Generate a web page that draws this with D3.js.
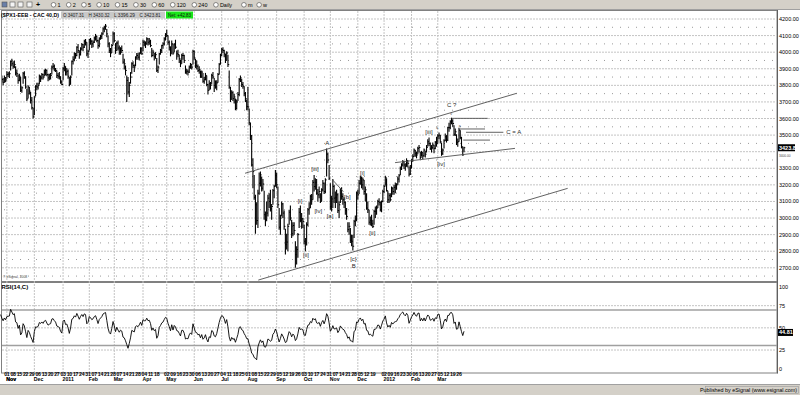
<!DOCTYPE html>
<html>
<head>
<meta charset="utf-8">
<script src="https://cdn.jsdelivr.net/npm/d3@7"></script>
<style>
  body { margin: 0; background: #fff; overflow: hidden; }
  svg text { font-family: "Liberation Sans", Arial, sans-serif; }
</style>
</head>
<body>
<svg id="chart" width="800" height="395"></svg>
<script>
// CAC 40 daily bars, Oct 25 2010 - Mar 30 2012. Each entry is [high, low, close].
const oct10 = [[3875,3845,3858],[3860,3815,3835],[3845,3800,3818],[3860,3815,3845],[3850,3818,3833]];
const nov10 = [[3885,3840,3866],[3880,3850,3868],[3885,3845,3870],[3950,3890,3945],[3960,3915,3930],
  [3945,3900,3915],[3950,3905,3925],[3915,3860,3875],[3895,3850,3870],[3865,3810,3830],
  [3870,3825,3855],[3850,3760,3770],[3795,3755,3785],[3880,3810,3870],[3885,3840,3850],
  [3855,3780,3790],[3780,3705,3718],[3800,3720,3790],[3790,3745,3765],[3760,3690,3710],
  [3730,3655,3665],[3665,3600,3610]];
const dec10 = [[3735,3620,3730],[3800,3735,3795],[3815,3770,3790],
  [3815,3775,3800],[3865,3805,3855],[3860,3820,3845],[3875,3835,3865],[3870,3835,3850],
  [3895,3855,3880],[3900,3860,3890],[3895,3855,3865],[3870,3825,3845],[3870,3830,3855],
  [3875,3835,3860],[3920,3865,3910],[3935,3895,3915],[3925,3885,3900],[3905,3880,3890],
  [3890,3845,3860],[3875,3840,3855],[3880,3835,3850],[3855,3810,3820],[3830,3800,3805]];
const jan11 = [[3910,3830,3900],[3935,3885,3915],[3915,3860,3880],[3905,3860,3885],[3895,3840,3855],
  [3850,3795,3805],[3860,3805,3850],[3950,3860,3945],[3975,3925,3955],[4000,3945,3990],
  [3995,3960,3980],[4035,3975,4030],[4050,3995,4010],[4010,3960,3985],[4030,3980,4020],
  [4055,4010,4045],[4050,4005,4030],[4075,4025,4065],[4080,4040,4060],[4060,3975,3990],
  [4015,3965,4005]];
const feb11 = [[4080,4010,4075],[4085,4045,4065],[4075,4025,4050],[4070,4030,4060],
  [4095,4055,4085],[4110,4070,4095],[4100,4060,4070],[4075,4020,4040],[4090,4030,4080],
  [4105,4075,4095],[4120,4080,4110],[4150,4105,4140],[4160,4120,4150],[4170,4135,4157],
  [4140,4090,4110],[4100,4030,4050],[4060,3995,4010],[4025,3970,3995],[4050,3995,4040],
  [4125,4045,4110]];
const mar11 = [[4120,4060,4070],[4055,3990,4010],[4065,4010,4055],[4070,4010,4025],
  [4040,3985,4000],[4030,3985,4020],[4040,3995,4010],[3990,3930,3940],[3960,3895,3930],
  [3920,3860,3890],[3860,3700,3830],[3850,3745,3760],[3820,3730,3800],[3880,3810,3850],
  [3940,3870,3930],[3945,3905,3920],[3925,3880,3910],[3975,3915,3970],[3995,3955,3980],
  [3995,3955,3970],[4000,3950,3990],[4030,3990,4020],[4030,3985,3990]];
const apr11 = [[4075,4005,4060],
  [4070,4035,4050],[4065,4025,4050],[4090,4045,4080],[4085,4040,4060],[4085,4045,4065],
  [4075,4030,4040],[4025,3970,3980],[4015,3975,4000],[3995,3950,3975],[4000,3960,3985],
  [3965,3880,3890],[3920,3875,3910],[3995,3925,3990],[4020,3985,4010],
  [4045,3995,4040],[4060,4020,4050],[4090,4040,4080],[4115,4070,4107]];
const may11 = [[4135,4090,4100],[4100,4045,4060],[4070,4010,4030],[4035,3975,3990],[4070,3990,4050],
  [4050,3985,3995],[4055,4000,4045],[4075,4020,4030],[4010,3955,3990],[4015,3970,3985],
  [3985,3935,3960],[3955,3910,3930],[3990,3930,3980],[3995,3955,3980],[3985,3935,3950],
  [3920,3870,3880],[3900,3865,3885],[3895,3860,3880],[3920,3875,3910],[3935,3900,3925],
  [3930,3895,3910],[4015,3925,4005]];
const jun11 = [[4010,3955,3965],[3960,3905,3920],[3950,3895,3915],
  [3925,3880,3890],[3915,3870,3895],[3890,3845,3855],[3890,3845,3880],[3875,3815,3825],
  [3850,3810,3835],[3875,3830,3860],[3860,3795,3805],[3810,3745,3770],[3830,3770,3810],
  [3820,3775,3800],[3870,3805,3860],[3880,3840,3850],[3845,3760,3800],[3830,3780,3790],
  [3830,3770,3815],[3875,3815,3865],[3935,3865,3925],[3990,3925,3980]];
const jul11 = [[4025,3975,4015],
  [4030,3995,4010],[4015,3970,3990],[3990,3935,3950],[4005,3950,3995],[3985,3910,3925],
  [3890,3780,3790],[3790,3700,3715],[3770,3715,3755],[3765,3705,3720],[3750,3690,3730],
  [3720,3650,3660],[3715,3655,3700],[3760,3705,3745],[3845,3735,3835],[3860,3820,3845],
  [3840,3790,3805],[3820,3780,3795],[3795,3735,3750],[3760,3700,3720],[3715,3650,3672]];
const aug11 = [[3790,3650,3670],[3660,3560,3575],[3575,3470,3495],[3500,3310,3320],[3360,3180,3280],
  [3260,3110,3125],[3140,2905,3080],[3095,2960,2985],[3170,2940,3150],[3275,3140,3210],
  [3280,3190,3260],[3250,3160,3180],[3235,3165,3205],[3165,2990,3020],[3040,2950,2990],
  [3100,2980,3030],[3140,3010,3120],[3150,3060,3100],[3170,3040,3055],[3085,2990,3070],
  [3175,3080,3165],[3200,3120,3190],[3290,3190,3256]];
const sep11 = [[3275,3180,3200],[3190,3060,3080],
  [3060,2930,2945],[3020,2900,3000],[3100,3010,3085],[3090,3000,3030],[3045,2930,2950],
  [2935,2780,2840],[2905,2810,2855],[2965,2800,2950],[3050,2960,3035],[3075,2985,3000],
  [2990,2880,2905],[2975,2890,2955],[2975,2900,2925],[2860,2700,2780],[2830,2720,2810],
  [2910,2760,2900],[3060,2940,3035],[3075,2975,2985],[3030,2935,2995],[3000,2940,2980]];
const oct11 = [[2960,2840,2860],[2880,2800,2850],[2975,2835,2960],[3060,2950,3050],[3095,3020,3060],
  [3140,3060,3130],[3145,3080,3110],[3230,3110,3215],[3260,3160,3190],[3240,3170,3215],
  [3235,3140,3150],[3175,3100,3140],[3190,3120,3160],[3150,3090,3100],[3180,3100,3170],
  [3230,3160,3210],[3215,3145,3160],[3240,3150,3230],[3420,3250,3385],[3395,3330,3350],
  [3320,3230,3240]];
const nov11 = [[3210,3050,3070],[3135,3040,3115],[3235,3060,3190],[3200,3090,3120],
  [3160,3060,3125],[3170,3090,3140],[3150,3030,3045],[3100,3000,3080],[3180,3090,3170],
  [3185,3110,3130],[3150,3080,3110],[3125,3060,3095],[3100,3020,3045],[3060,2990,3010],
  [2975,2915,2930],[2975,2900,2950],[2940,2850,2865],[2900,2830,2860],[2900,2805,2830],
  [2990,2880,2980],[3015,2950,2995],[3160,2980,3150]];
const dec11 = [[3170,3110,3140],[3230,3145,3210],
  [3255,3200,3240],[3250,3180,3200],[3245,3170,3230],[3230,3140,3160],[3190,3100,3170],
  [3150,3050,3060],[3100,3030,3050],[3050,2960,2975],[3010,2955,2985],[3020,2950,2965],
  [2990,2940,2950],[3050,2960,3040],[3070,3000,3040],[3075,3020,3060],[3110,3060,3100],
  [3120,3075,3095],[3100,3040,3050],[3105,3035,3100],[3170,3095,3160]];
const jan12 = [[3200,3150,3190],[3255,3195,3245],[3240,3160,3165],[3165,3090,3110],[3150,3090,3135],
  [3150,3100,3110],[3190,3125,3180],[3185,3140,3160],[3200,3140,3185],[3215,3150,3195],
  [3210,3170,3200],[3250,3200,3235],[3265,3215,3255],[3310,3260,3300],[3330,3290,3320],
  [3350,3310,3340],[3340,3295,3320],[3330,3285,3310],[3360,3310,3345],[3350,3305,3330],
  [3310,3250,3265],[3320,3260,3300]];
const feb12 = [[3355,3300,3345],[3385,3340,3370],[3420,3370,3410],
  [3410,3370,3390],[3400,3360,3380],[3430,3385,3420],[3440,3395,3425],[3400,3355,3365],
  [3405,3370,3395],[3395,3355,3375],[3420,3370,3410],[3405,3365,3385],[3440,3395,3425],
  [3475,3430,3460],[3485,3435,3450],[3455,3410,3420],[3440,3395,3425],[3455,3415,3440],
  [3440,3390,3420],[3465,3415,3455],[3490,3430,3450]];
const mar12 = [[3505,3450,3495],[3515,3475,3500],
  [3500,3450,3460],[3455,3375,3390],[3420,3380,3410],[3475,3420,3465],[3510,3465,3490],
  [3500,3455,3470],[3550,3465,3545],[3575,3520,3545],[3590,3535,3580],[3605,3565,3585],
  [3595,3550,3570],[3560,3495,3505],[3540,3495,3520],[3505,3440,3455],[3480,3430,3460],
  [3545,3460,3530],[3530,3475,3485],[3490,3420,3430],[3430,3375,3380.98],[3430.32,3396.29,3423.81]];

// closes before the visible range, only used to start the RSI
const warmupCloses = [3730,3690,3770,3780,3770,3750,3760,3740,3800,3810,3830,3820,3780,3810,3860,3850];
const holidays = ["2011-04-22","2011-04-25","2011-12-26"];
const lastBar = { o: 3407.31, h: 3430.32, l: 3396.29, c: 3423.81, net: 42.83 };
const rsiLast = 44.81;

const priceTicks = d3.range(2700, 4201, 100);
const rsiTicks = [0, 25, 50, 75, 100];
const monthNames = ["Jan","Feb","Mar","Apr","May","Jun","Jul","Aug","Sep","Oct","Nov","Dec"];
const toolbarLabels = ["1","2","5","10","15","30","60","120","240","Daily","m","w"];

// channel lines and wave labels, in [bar index, price]
const trendLines = [
  [[195.7, 3270], [413.2, 3752]],
  [[206.3, 2626], [454.0, 3179]],
  [[315.8, 3334], [411.8, 3420]],
  [[265.9, 3229], [274.4, 3159]],
  [[361.2, 3601], [390.0, 3601]],
  [[367.8, 3537], [387.8, 3537]],
  [[372.6, 3517], [402.5, 3517]],
  [[370.4, 3470], [391.8, 3470]]
];
const waveLabels = [
  ["A", 261.5, 3451], ["[iii]", 251.7, 3296], ["[i]", 239.7, 3103], ["[iv]", 254.3, 3044],
  ["[a]", 263.7, 3012], ["[b]", 277.6, 3125], ["[ii]", 244.5, 2777], ["[c]", 282.4, 2751],
  ["B", 282.7, 2711], ["[i]", 289.6, 3273], ["[ii]", 297.6, 2912], ["[iii]", 343, 3521],
  ["[iv]", 352.6, 3324], ["C ?", 361.1, 3682]
];
const tinyLabels = [["v", 360.6, 3628], ["a", 349.6, 3545], ["a", 367.5, 3553]];

// ---------------------------------------------------------------
const months = [oct10, nov10, dec10, jan11, feb11, mar11, apr11, may11, jun11,
                jul11, aug11, sep11, oct11, nov11, dec11, jan12, feb12, mar12];
const rows = months.flat();

function tradingDays(from, to) {
  const out = [];
  const d = new Date(from + "T00:00:00Z");
  const end = new Date(to + "T00:00:00Z");
  while (d <= end) {
    const wd = d.getUTCDay();
    const iso = d.toISOString().slice(0, 10);
    if (wd !== 0 && wd !== 6 && !holidays.includes(iso)) out.push(new Date(d));
    d.setUTCDate(d.getUTCDate() + 1);
  }
  return out;
}
const dates = tradingDays("2010-10-25", "2012-03-30");
const bars = rows.map((r, i) => ({ i, date: dates[i], high: r[0], low: r[1], close: r[2] }));

// Wilder RSI(14) on the closes
function rsi(closes, n) {
  const out = new Array(closes.length).fill(null);
  let g = 0, l = 0;
  for (let k = 1; k <= n; k++) {
    const d = closes[k] - closes[k - 1];
    if (d > 0) g += d; else l -= d;
  }
  g /= n; l /= n;
  out[n] = 100 - 100 / (1 + g / l);
  for (let k = n + 1; k < closes.length; k++) {
    const d = closes[k] - closes[k - 1];
    g = (g * (n - 1) + Math.max(d, 0)) / n;
    l = (l * (n - 1) + Math.max(-d, 0)) / n;
    out[k] = 100 - 100 / (1 + g / l);
  }
  return out;
}
const allCloses = warmupCloses.concat(bars.map(d => d.close));
const rsiAll = rsi(allCloses, 14);
const rsiData = bars.map((d, k) => ({ i: d.i, v: rsiAll[k + warmupCloses.length] }));

// ---------------------------------------------------------------
const svg = d3.select("#chart");
const paneRight = 777;
const priceTop = 10, priceBottom = 281;
const rsiTopY = 282, rsiBottomY = 372.5;

const x = d3.scaleLinear().domain([-0.5, 621.6]).range([0, paneRight]);
const y = d3.scaleLinear().domain([2700, 4200]).range([267.8, 19]);
const yRsi = d3.scaleLinear().domain([0, 100]).range([372.2, 283.5]);

const gray = "#d4d0c8";

// toolbar
svg.append("rect").attr("x", 0).attr("y", 0).attr("width", 800).attr("height", 10).attr("fill", gray);
svg.append("line").attr("x1", 0).attr("x2", 800).attr("y1", 9.5).attr("y2", 9.5).attr("stroke", "#a0a0a0");
const iconX = [2, 10, 18, 27];
svg.selectAll(".icon").data(iconX).enter().append("rect")
  .attr("x", d => d).attr("y", 2).attr("width", 5).attr("height", 5)
  .attr("fill", (d, k) => k === 0 ? "#6a7fa8" : "#f4f4f4").attr("stroke", "#555").attr("stroke-width", 0.6);
svg.append("text").attr("x", 36).attr("y", 7.2).attr("font-size", 7).attr("font-weight", "bold").text("+");
let tx = 51;
toolbarLabels.forEach(t => {
  svg.append("circle").attr("cx", tx + 2.5).attr("cy", 4.8).attr("r", 2.3)
    .attr("fill", "#fff").attr("stroke", "#444").attr("stroke-width", 0.6);
  svg.append("text").attr("x", tx + 6.5).attr("y", 6.8).attr("font-size", 5.5).text(t);
  tx += 9 + t.length * 3.2 + 3;
});

// panes
svg.append("rect").attr("x", 1.5).attr("y", priceTop + 0.5).attr("width", paneRight - 1.5)
  .attr("height", priceBottom - priceTop).attr("fill", "#fff").attr("stroke", "#808080");
svg.append("rect").attr("x", 1.5).attr("y", rsiTopY + 0.5).attr("width", paneRight - 1.5)
  .attr("height", rsiBottomY - rsiTopY).attr("fill", "#fff").attr("stroke", "#808080");

const grid = svg.append("g");
grid.selectAll(".hmaj").data(priceTicks).enter().append("line")
  .attr("x1", 2).attr("x2", paneRight).attr("y1", d => y(d)).attr("y2", d => y(d))
  .attr("stroke", "#c4c4c4").attr("stroke-dasharray", "2,1");
grid.selectAll(".hmin").data(priceTicks.map(d => d - 50)).enter().append("line")
  .attr("x1", 4).attr("x2", paneRight).attr("y1", d => y(d)).attr("y2", d => y(d))
  .attr("stroke", "#9a9a9a").attr("stroke-dasharray", "1,7");

const monthStarts = bars.filter((d, k) => k > 0 && d.date.getUTCMonth() !== bars[k - 1].date.getUTCMonth());
grid.selectAll(".vmaj").data(monthStarts).enter().append("line")
  .attr("x1", d => x(d.i)).attr("x2", d => x(d.i)).attr("y1", priceTop + 1).attr("y2", rsiBottomY)
  .attr("stroke", "#c4c4c4").attr("stroke-dasharray", "2,1");

// rsi grid
grid.selectAll(".rg").data([25, 50, 75]).enter().append("line")
  .attr("x1", 2).attr("x2", paneRight).attr("y1", d => yRsi(d)).attr("y2", d => yRsi(d))
  .attr("stroke", "#c4c4c4").attr("stroke-dasharray", "2,1");
grid.selectAll(".rb").data([30, 70]).enter().append("line")
  .attr("x1", 2).attr("x2", paneRight).attr("y1", d => yRsi(d)).attr("y2", d => yRsi(d))
  .attr("stroke", "#a0a0a0").attr("stroke-width", 1.5);

// clip for the price pane
svg.append("clipPath").attr("id", "pclip").append("rect")
  .attr("x", 2).attr("y", priceTop + 1).attr("width", paneRight - 2).attr("height", priceBottom - priceTop - 1);

const priceG = svg.append("g").attr("clip-path", "url(#pclip)");
priceG.selectAll(".hl").data(bars).enter().append("line")
  .attr("x1", d => x(d.i)).attr("x2", d => x(d.i))
  .attr("y1", d => y(d.high)).attr("y2", d => y(d.low))
  .attr("stroke", "#000").attr("stroke-width", 1.1);
priceG.selectAll(".cl").data(bars).enter().append("line")
  .attr("x1", d => x(d.i)).attr("x2", d => x(d.i) + 1.3)
  .attr("y1", d => y(d.close)).attr("y2", d => y(d.close))
  .attr("stroke", "#000").attr("stroke-width", 1);

priceG.selectAll(".tl").data(trendLines).enter().append("line")
  .attr("x1", d => x(d[0][0])).attr("y1", d => y(d[0][1]))
  .attr("x2", d => x(d[1][0])).attr("y2", d => y(d[1][1]))
  .attr("stroke", "#505050").attr("stroke-width", 0.9);

priceG.selectAll(".wl").data(waveLabels).enter().append("text")
  .attr("x", d => x(d[1])).attr("y", d => y(d[2]) + 2)
  .attr("text-anchor", "middle").attr("font-size", 6).attr("fill", "#2a2a2a").text(d => d[0]);
priceG.selectAll(".tiny").data(tinyLabels).enter().append("text")
  .attr("x", d => x(d[1])).attr("y", d => y(d[2]) + 1)
  .attr("text-anchor", "middle").attr("font-size", 3.5).attr("fill", "#303030").text(d => d[0]);
priceG.append("text").attr("x", x(402.5) + 3).attr("y", y(3517) + 2)
  .attr("font-size", 6).attr("fill", "#2a2a2a").text("C = A");
priceG.append("text").attr("x", 3).attr("y", 278).attr("font-size", 3.4).attr("fill", "#404040")
  .text("© eSignal, 2008");

// title row
svg.append("text").attr("x", 1).attr("y", 17.3).attr("font-size", 5.6).attr("font-weight", "bold")
  .attr("textLength", 58).attr("lengthAdjust", "spacingAndGlyphs")
  .text("($PX1-EEB - CAC 40,D)");
svg.append("rect").attr("x", 61).attr("y", 11.5).attr("width", 104).attr("height", 7).attr("fill", "#c8c8c8");
const ohlc = [["O", lastBar.o], ["H", lastBar.h], ["L", lastBar.l], ["C", lastBar.c]];
svg.selectAll(".ohlc").data(ohlc).enter().append("text")
  .attr("x", (d, k) => 63 + k * 25.5).attr("y", 17).attr("font-size", 5)
  .attr("textLength", 21).attr("lengthAdjust", "spacingAndGlyphs").attr("fill", "#222")
  .text(d => d[0] + " " + d[1].toFixed(2));
svg.append("rect").attr("x", 166).attr("y", 11.5).attr("width", 27).attr("height", 7).attr("fill", "#19e619");
svg.append("text").attr("x", 168).attr("y", 17).attr("font-size", 5)
  .attr("textLength", 23).attr("lengthAdjust", "spacingAndGlyphs").attr("fill", "#111")
  .text("Net: +" + lastBar.net.toFixed(2));

// rsi line
svg.append("text").attr("x", 1.5).attr("y", 289).attr("font-size", 6).attr("font-weight", "bold").text("RSI(14,C)");
const rsiLine = d3.line().x(d => x(d.i)).y(d => yRsi(d.v));
svg.append("path").datum(rsiData).attr("d", rsiLine)
  .attr("fill", "none").attr("stroke", "#000").attr("stroke-width", 0.9);

// right axis (the current-price box hides the 3400 label, as on the original)
const axisG = svg.append("g");
axisG.append("line").attr("x1", paneRight + 0.5).attr("x2", paneRight + 0.5).attr("y1", priceTop).attr("y2", rsiBottomY + 1)
  .attr("stroke", "#606060");
axisG.selectAll(".pl").data(priceTicks.filter(d => Math.abs(y(d) - y(lastBar.c)) > 6)).enter().append("text")
  .attr("x", 779).attr("y", d => y(d) + 2).attr("font-size", 5.5).text(d => d.toFixed(2));
axisG.append("rect").attr("x", 778).attr("y", y(lastBar.c) - 3.5).attr("width", 17).attr("height", 7).attr("fill", "#000");
axisG.append("text").attr("x", 779).attr("y", y(lastBar.c) + 2).attr("font-size", 5.5)
  .attr("font-weight", "bold").attr("fill", "#fff").text(lastBar.c.toFixed(2));
axisG.append("text").attr("x", 779).attr("y", y(3400) + 5.2).attr("font-size", 3.2).attr("fill", "#444")
  .text("3400.00");
axisG.selectAll(".rl").data(rsiTicks).enter().append("text")
  .attr("x", 779).attr("y", d => Math.min(371, Math.max(288.5, yRsi(d) + 2))).attr("font-size", 5.5).text(d => d);
axisG.append("rect").attr("x", 778).attr("y", yRsi(rsiLast) - 3.5).attr("width", 15).attr("height", 7).attr("fill", "#000");
axisG.append("text").attr("x", 779).attr("y", yRsi(rsiLast) + 2).attr("font-size", 5.5)
  .attr("font-weight", "bold").attr("fill", "#fff").text(rsiLast.toFixed(2));

// date axis
const mondays = bars.filter(d => d.date.getUTCDay() === 1 && d.i >= 5);
svg.selectAll(".dl").data(mondays).enter().append("text")
  .attr("x", d => x(d.i)).attr("y", 376).attr("text-anchor", "middle")
  .attr("font-size", 5.2).attr("font-weight", "bold").attr("letter-spacing", -0.2)
  .text(d => String(d.date.getUTCDate()).padStart(2, "0"));
const monthLabels = [{ i: 5, date: new Date(Date.UTC(2010, 10, 1)) }].concat(monthStarts);
svg.selectAll(".ml").data(monthLabels).enter().append("text")
  .attr("x", d => Math.max(1, x(d.i) - 0.5)).attr("y", 381.3)
  .attr("font-size", 5.2).attr("font-weight", "bold")
  .text(d => d.date.getUTCMonth() === 0 ? d.date.getUTCFullYear() : monthNames[d.date.getUTCMonth()]);

// status bar
svg.append("rect").attr("x", 0).attr("y", 384).attr("width", 800).attr("height", 11).attr("fill", gray);
svg.append("line").attr("x1", 0).attr("x2", 800).attr("y1", 384.5).attr("y2", 384.5).attr("stroke", "#a0a0a0");
svg.append("rect").attr("x", 705.5).attr("y", 386.5).attr("width", 93).attr("height", 7)
  .attr("fill", "none").attr("stroke", "#999").attr("stroke-width", 0.6);
svg.append("text").attr("x", 797).attr("y", 392).attr("text-anchor", "end").attr("font-size", 5.4)
  .text("Published by eSignal (www.esignal.com)");
</script>
</body>
</html>
